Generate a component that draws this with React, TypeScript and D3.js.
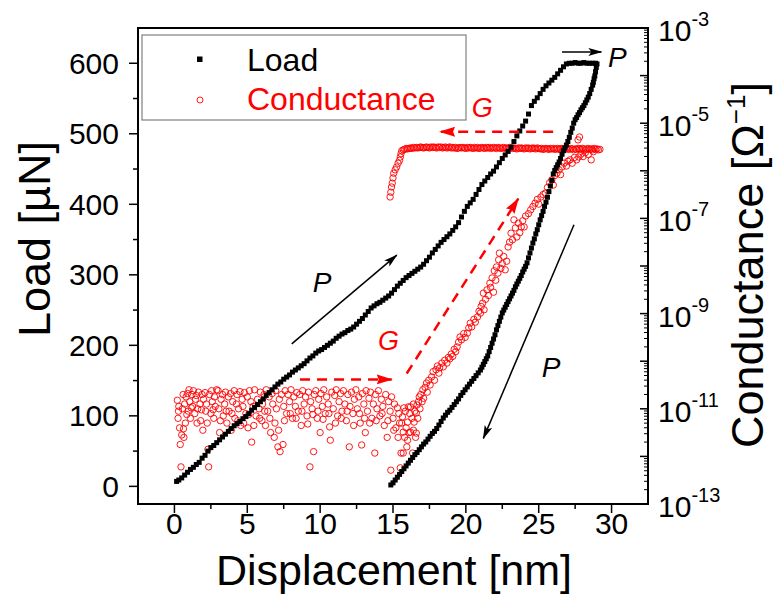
import React from 'react';
import * as d3 from 'd3';

// ---------------- data ----------------
// Load [µN] vs displacement [nm]: loading branch, hold, unloading branch
const loadLoading: [number, number][] = [
  [0.15,7],[0.3,9],[0.5,12],[0.7,16],[0.9,20],[1.1,24],[1.3,27],[1.5,31],[1.7,34],[1.9,40],
  [2.1,44],[2.3,50],[2.5,55],[2.7,58],[2.9,62],[3.1,66],[3.3,70],[3.5,74],[3.7,78],[3.9,82],
  [4.1,86],[4.3,89],[4.5,92],[4.7,96],[4.9,99],[5.1,103],[5.3,108],[5.5,112],[5.7,116],[5.9,120],
  [6.1,124],[6.3,129],[6.5,133],[6.7,137],[6.9,141],[7.1,145],[7.3,148],[7.5,152],[7.7,155],[7.9,158],
  [8.1,162],[8.3,165],[8.5,168],[8.7,171],[8.9,174],[9.1,178],[9.3,182],[9.5,185],[9.7,189],[9.9,192],
  [10.1,194],[10.3,197],[10.5,200],[10.7,203],[10.9,206],[11.1,210],[11.3,213],[11.5,216],[11.7,218],[11.9,221],
  [12.1,223],[12.3,226],[12.5,230],[12.7,234],[12.9,238],[13.1,243],[13.3,248],[13.5,253],[13.7,256],[13.9,259],
  [14.1,261],[14.3,264],[14.5,267],[14.7,270],[14.9,274],[15.1,279],[15.3,284],[15.5,288],[15.7,292],[15.9,296],
  [16.1,299],[16.3,302],[16.5,305],[16.7,308],[16.9,311],[17.1,315],[17.3,320],[17.5,325],[17.7,331],[17.9,336],
  [18.1,341],[18.3,346],[18.5,350],[18.7,354],[18.9,358],[19.1,363],[19.3,368],[19.5,374],[19.7,382],[19.9,390],
  [20.1,397],[20.3,402],[20.5,407],[20.7,414],[20.9,421],[21.1,428],[21.3,433],[21.5,438],[21.7,443],[21.9,447],
  [22.1,453],[22.3,459],[22.5,465],[22.7,470],[22.9,475],[23.1,481],[23.3,489],[23.5,497],[23.7,504],[23.9,511],
  [24.1,518],[24.3,528],[24.5,540],[24.7,546],[24.9,551],[25.1,557],[25.3,563],[25.5,568],[25.7,572],[25.9,576],
  [26.1,580],[26.3,585],[26.5,590],[26.7,595],[26.9,599],
];
const loadHold: [number, number][] = [
  [27.1,600],[27.3,600],[27.5,601],[27.7,600],[27.9,600],[28.1,601],[28.3,600],[28.5,600],[28.7,600],[28.9,600],[29.0,599],
];
const loadUnloading: [number, number][] = [
  [28.95,594],[28.9,588],[28.85,582],[28.8,578],[28.75,573],[28.7,569],[28.6,563],[28.5,557],[28.4,552],[28.3,548],
  [28.2,544],[28.1,540],[28.0,537],[27.9,534],[27.8,530],[27.7,527],[27.6,523],[27.5,520],[27.4,515],[27.3,508],
  [27.2,502],[27.1,495],[27.0,489],[26.9,484],[26.8,480],[26.7,476],[26.6,471],[26.5,465],[26.4,460],[26.3,456],
  [26.2,452],[26.1,448],[26.0,443],[25.9,434],[25.8,426],[25.7,418],[25.6,410],[25.5,403],[25.4,397],[25.3,390],
  [25.2,384],[25.1,378],[25.0,371],[24.9,364],[24.8,358],[24.7,351],[24.6,345],[24.5,338],[24.4,331],[24.3,324],
  [24.2,317],[24.1,312],[24.0,308],[23.9,304],[23.8,299],[23.7,295],[23.6,291],[23.5,287],[23.4,283],[23.3,278],
  [23.2,274],[23.1,270],[23.0,266],[22.9,262],[22.8,258],[22.7,254],[22.6,250],[22.5,246],[22.4,240],[22.3,234],
  [22.2,228],[22.1,222],[22.0,215],[21.9,209],[21.8,203],[21.7,197],[21.6,191],[21.5,185],[21.4,181],[21.3,177],
  [21.2,173],[21.1,169],[21.0,165],[20.85,161],[20.7,157],[20.55,153],[20.4,149],[20.25,145],[20.1,141],[19.95,137],
  [19.8,133],[19.65,129],[19.5,124],[19.35,120],[19.2,116],[19.05,112],[18.9,108],[18.75,105],[18.6,101],[18.45,97],
  [18.3,92],[18.15,87],[18.0,82],[17.85,78],[17.7,75],[17.55,71],[17.4,67],[17.25,63],[17.1,60],[16.95,56],
  [16.8,52],[16.65,48],[16.5,45],[16.35,41],[16.2,37],[16.05,33],[15.9,29],[15.75,25],[15.6,21],[15.45,17],
  [15.3,13],[15.15,9],[15.0,5],[14.85,2],
];

// Conductance: [displacement nm, log10(G / Ω⁻¹)]
const condNoise: [number, number][] = [
  [0.2,-10.82],[0.25,-11.2],[0.3,-10.95],[0.35,-11.4],[0.4,-11.75],[0.45,-12.22],[0.5,-11.55],[0.55,-11.0],[0.6,-10.7],[0.65,-11.6],
  [0.7,-10.9],[0.75,-11.3],[0.8,-10.75],[0.9,-10.68],[0.95,-11.05],[1.0,-10.6],[1.05,-10.85],[1.1,-11.2],[1.2,-10.7],[1.25,-10.95],
  [1.3,-10.62],[1.4,-11.1],[1.45,-10.8],[1.5,-10.72],[1.6,-11.0],[1.65,-10.65],[1.75,-10.9],[1.8,-11.25],[1.9,-10.7],[1.95,-11.45],
  [2.0,-10.8],[2.1,-10.66],[2.15,-11.05],[2.2,-10.9],[2.3,-11.85],[2.35,-12.22],[2.4,-10.7],[2.5,-11.1],[2.55,-10.62],[2.6,-10.85],
  [2.7,-11.2],[2.75,-10.75],[2.8,-10.95],[2.9,-10.6],[3.0,-10.62],[3.05,-11.0],[3.1,-11.5],[3.2,-10.8],[3.3,-10.7],[3.35,-11.15],
  [3.45,-10.9],[3.5,-10.65],[3.6,-11.3],[3.7,-10.75],[3.75,-11.05],[3.85,-10.68],[3.9,-11.45],[4.0,-10.85],[4.1,-10.62],[4.15,-11.2],
  [4.25,-10.9],[4.3,-10.7],[4.4,-11.0],[4.5,-10.64],[4.55,-11.35],[4.65,-10.8],[4.7,-10.95],[4.8,-10.66],[4.9,-11.1],[5.0,-10.75],
  [5.05,-11.4],[5.15,-10.62],[5.25,-10.85],[5.3,-11.7],[5.4,-10.95],[5.5,-10.6],[5.6,-11.15],[5.7,-10.8],[5.8,-11.0],[5.9,-10.65],
  [6.0,-11.25],[6.05,-10.9],[6.15,-10.7],[6.25,-11.35],[6.3,-10.6],[6.4,-11.05],[6.5,-10.75],[6.6,-11.5],[6.7,-10.68],[6.75,-10.9],
  [6.85,-11.6],[6.95,-10.62],[7.0,-11.0],[7.1,-11.8],[7.2,-10.8],[7.25,-11.9],[7.35,-10.7],[7.45,-11.75],[7.5,-10.95],[7.6,-10.62],
  [7.7,-11.1],[7.8,-10.7],[7.9,-10.85],[8.0,-10.6],[8.1,-11.2],[8.2,-10.75],[8.3,-10.95],[8.4,-10.66],[8.5,-11.05],[8.6,-10.7],
  [8.7,-11.35],[8.8,-10.62],[8.9,-10.9],[9.0,-10.75],[9.1,-11.15],[9.2,-10.65],[9.3,-12.22],[9.35,-10.85],[9.45,-11.0],[9.55,-11.9],
  [9.6,-10.7],[9.7,-10.62],[9.8,-11.2],[9.9,-10.8],[10.0,-11.5],[10.05,-10.68],[10.15,-10.95],[10.25,-10.6],[10.35,-11.1],[10.45,-10.75],
  [10.55,-10.9],[10.65,-11.38],[10.7,-11.66],[10.8,-10.65],[10.9,-11.0],[11.0,-10.72],[11.1,-10.6],[11.2,-11.15],[11.3,-10.85],[11.4,-10.68],
  [11.5,-11.05],[11.6,-10.62],[11.7,-10.9],[11.8,-11.25],[11.9,-10.7],[12.0,-11.8],[12.05,-10.95],[12.15,-10.65],[12.25,-11.1],[12.35,-10.8],
  [12.45,-10.6],[12.55,-11.0],[12.65,-10.75],[12.75,-11.3],[12.85,-11.76],[12.9,-10.68],[13.0,-10.9],[13.1,-11.5],[13.15,-10.62],[13.25,-11.05],
  [13.35,-10.78],[13.45,-10.65],[13.55,-11.2],[13.65,-10.9],[13.75,-11.93],[13.8,-10.7],[13.9,-11.0],[14.0,-10.62],[14.1,-11.15],[14.2,-10.8],
  [14.3,-10.95],[14.4,-11.35],[14.5,-10.7],[14.6,-11.6],[14.7,-10.85],[14.8,-11.05],[14.85,-12.29],[14.9,-10.75],[15.0,-11.2],[15.1,-10.9],
  [15.2,-11.4],[15.3,-10.98],[15.4,-11.1],[15.5,-12.24],
  // second, looser layer of the noise band
  [0.28,-11.05],[0.62,-11.42],[0.85,-11.12],[1.15,-10.98],[1.55,-11.3],[1.85,-11.02],[2.25,-11.3],[2.65,-11.02],[3.15,-11.25],[3.55,-11.05],
  [3.95,-11.1],[4.35,-11.25],[4.75,-11.3],[5.1,-11.12],[5.45,-11.35],[5.85,-11.2],[6.2,-11.05],[6.55,-11.2],[6.9,-11.3],[7.15,-11.45],
  [7.55,-11.25],[7.95,-11.1],[8.35,-11.2],[8.75,-11.05],[9.15,-11.32],[9.5,-11.12],[9.85,-11.05],[10.2,-11.22],[10.6,-11.1],[11.05,-11.3],
  [11.45,-11.2],[11.85,-11.05],[12.3,-11.35],[12.7,-11.1],[13.05,-11.2],[13.4,-11.3],[13.85,-11.25],[14.25,-11.1],[14.65,-11.25],[15.05,-11.45],
  [15.35,-11.6],[15.45,-11.3],
];
const condRising: [number, number][] = [
  [15.55,-11.93],[15.6,-11.3],[15.65,-11.17],[15.7,-11.93],[15.7,-11.49],[15.75,-10.98],[15.8,-11.6],[15.85,-11.05],[15.9,-11.4],[15.95,-11.8],
  [16.0,-11.66],[16.0,-11.28],[16.05,-10.96],[16.1,-11.5],[16.15,-11.1],[16.2,-11.49],[16.2,-10.96],[16.3,-11.2],[16.35,-11.93],[16.4,-11.45],
  [16.4,-10.9],[16.45,-11.28],[16.5,-11.05],[16.55,-11.6],[16.6,-11.51],[16.6,-11.09],[16.65,-10.92],[16.7,-11.2],[16.75,-10.85],[16.8,-10.75],
  [16.85,-11.0],[16.9,-10.7],[17.0,-10.85],[17.05,-10.6],[17.1,-10.78],[17.2,-10.55],[17.3,-10.46],[17.35,-10.65],[17.45,-10.4],[17.55,-10.5],
  [17.65,-10.33],[17.75,-10.22],[17.85,-10.4],[17.95,-10.18],[18.05,-10.1],[18.15,-10.25],[18.2,-10.14],[18.35,-10.04],[18.45,-10.12],[18.55,-9.98],
  [18.7,-10.04],[18.8,-9.92],[18.9,-9.95],[19.0,-9.85],[19.1,-9.9],[19.2,-9.75],[19.3,-9.8],[19.4,-9.7],[19.5,-9.6],[19.6,-9.49],
  [19.7,-9.55],[19.85,-9.42],[19.95,-9.5],[20.1,-9.41],[20.2,-9.3],[20.3,-9.2],[20.4,-9.28],[20.55,-9.12],[20.65,-9.18],[20.8,-9.07],
  [20.9,-8.95],[21.0,-8.99],[21.05,-8.85],[21.15,-8.78],[21.2,-8.57],[21.25,-8.92],[21.35,-8.7],[21.45,-8.5],[21.55,-8.62],[21.65,-8.36],
  [21.7,-8.45],[21.8,-8.25],[21.9,-8.55],[21.95,-8.1],[22.05,-8.3],[22.1,-8.02],[22.2,-8.15],[22.25,-7.87],[22.3,-7.73],[22.4,-8.05],
  [22.5,-7.95],[22.6,-7.8],[22.7,-8.08],[22.8,-7.9],[22.9,-7.6],[23.0,-7.5],[23.1,-7.31],[23.2,-7.45],[23.3,-7.03],[23.4,-7.2],
  [23.5,-7.39],[23.6,-7.1],[23.7,-7.3],[23.8,-7.18],[23.9,-7.05],[24.0,-7.18],[24.1,-6.95],[24.3,-6.9],[24.45,-6.82],[24.6,-6.75],
  [24.75,-6.68],[24.9,-6.6],[25.0,-6.7],[25.15,-6.55],[25.3,-6.5],[25.45,-6.47],[25.6,-6.35],[25.75,-6.25],[25.9,-6.19],[26.0,-6.3],
  [26.1,-6.1],[26.25,-6.05],[26.4,-5.98],[26.5,-6.08],[26.6,-5.92],[26.75,-5.84],[26.9,-5.9],[27.0,-5.8],[27.15,-5.77],[27.3,-5.84],
  [27.45,-5.72],[27.6,-5.77],[27.7,-5.35],[27.75,-5.71],[27.8,-5.29],[27.9,-5.65],[28.05,-5.7],[28.2,-5.62],[28.4,-5.66],[28.6,-5.77],
  [28.75,-5.6],
];
const condPlateau: [number, number][] = [
  [29.2,-5.55],[29.1,-5.56],[29.0,-5.54],[28.9,-5.55],[28.8,-5.53],[28.7,-5.56],[28.6,-5.54],[28.5,-5.55],[28.4,-5.53],[28.3,-5.54],
  [28.2,-5.56],[28.1,-5.54],[28.0,-5.53],[27.9,-5.55],[27.8,-5.54],[27.7,-5.53],[27.6,-5.55],[27.5,-5.54],[27.4,-5.56],[27.3,-5.54],
  [27.2,-5.53],[27.1,-5.55],[27.0,-5.54],[26.9,-5.53],[26.8,-5.55],[26.7,-5.54],[26.6,-5.53],[26.5,-5.54],[26.4,-5.55],[26.3,-5.53],
  [26.2,-5.54],[26.1,-5.55],[26.0,-5.53],[25.9,-5.54],[25.8,-5.53],[25.7,-5.55],[25.6,-5.54],[25.5,-5.53],[25.4,-5.54],[25.3,-5.55],
  [25.2,-5.53],[25.1,-5.54],[25.0,-5.53],[24.9,-5.52],[24.8,-5.54],[24.7,-5.53],[24.6,-5.52],[24.5,-5.53],[24.4,-5.54],[24.3,-5.52],
  [24.2,-5.53],[24.1,-5.52],[24.0,-5.54],[23.9,-5.53],[23.8,-5.52],[23.7,-5.53],[23.6,-5.52],[23.5,-5.54],[23.4,-5.53],[23.3,-5.52],
  [23.2,-5.53],[23.1,-5.52],[23.0,-5.51],[22.9,-5.53],[22.8,-5.52],[22.7,-5.53],[22.6,-5.51],[22.5,-5.52],[22.4,-5.53],[22.3,-5.52],
  [22.2,-5.51],[22.1,-5.53],[22.0,-5.52],[21.9,-5.51],[21.8,-5.52],[21.7,-5.53],[21.6,-5.51],[21.5,-5.52],[21.4,-5.51],[21.3,-5.53],
  [21.2,-5.52],[21.1,-5.51],[21.0,-5.52],[20.9,-5.53],[20.8,-5.51],[20.7,-5.52],[20.6,-5.51],[20.5,-5.53],[20.4,-5.52],[20.3,-5.51],
  [20.2,-5.52],[20.1,-5.51],[20.0,-5.53],[19.9,-5.52],[19.8,-5.51],[19.7,-5.52],[19.6,-5.51],[19.5,-5.52],[19.4,-5.53],[19.3,-5.51],
  [19.2,-5.52],[19.1,-5.51],[19.0,-5.52],[18.9,-5.5],[18.8,-5.51],[18.7,-5.52],[18.6,-5.5],[18.5,-5.51],[18.4,-5.52],[18.3,-5.5],
  [18.2,-5.51],[18.1,-5.5],[18.0,-5.52],[17.9,-5.51],[17.8,-5.5],[17.7,-5.51],[17.6,-5.5],[17.5,-5.52],[17.4,-5.51],[17.3,-5.5],
  [17.2,-5.51],[17.1,-5.52],[17.0,-5.51],[16.9,-5.5],[16.8,-5.51],[16.7,-5.52],[16.6,-5.51],[16.5,-5.52],[16.4,-5.51],[16.3,-5.53],
  [16.2,-5.52],[16.1,-5.53],[16.0,-5.54],[15.9,-5.53],[15.8,-5.55],[15.7,-5.56],[15.6,-5.58],
  [15.55,-5.64],[15.5,-5.71],[15.45,-5.78],[15.35,-5.84],[15.25,-5.92],[15.15,-5.98],[15.05,-6.05],[15.0,-6.15],[14.95,-6.26],[14.9,-6.34],
  [14.85,-6.45],[14.8,-6.55],
];

// axes
const xTicks = [0, 5, 10, 15, 20, 25, 30];
const xMinor = [2.5, 7.5, 12.5, 17.5, 22.5, 27.5];
const loadTicks = [0, 100, 200, 300, 400, 500, 600];
const loadMinor = [50, 150, 250, 350, 450, 550];
const condLabelExps = [-3, -5, -7, -9, -11, -13];
const condDecades = [-13, -12, -11, -10, -9, -8, -7, -6, -5, -4, -3];

// annotations in data coordinates [displacement, load]
const arrowLoadUp = [[8.05, 202], [15.26, 328]];
const labelLoadUp = [9.5, 276];
const arrowHold = [[26.6, 616], [29.3, 616]];
const labelHold = [29.76, 595];
const arrowUnload = [[27.42, 371], [21.2, 68]];
const labelUnload = [25.2, 155];
const arrowGFlat = [[8.62, 151.6], [14.91, 151.6]];
const arrowGRise = [[15.94, 160], [23.6, 408]];
const labelGLow = [13.97, 193];
const arrowGBack = [[25.99, 503], [18.23, 503]];
const labelGHigh = [20.4, 524];

const W = 775;
const H = 599;
const FONT = '"Liberation Sans", Arial, Helvetica, sans-serif';
const RED = '#ff0000';

export default function App() {
  const L = 138, R = 648, T = 28, B = 504;
  const x = d3.scaleLinear().domain([-2.5, 32.5]).range([L, R]);
  const yL = d3.scaleLinear().domain([-25, 650]).range([B, T]);
  const yG = d3.scaleLog().domain([1e-13, 1e-3]).range([B, T]);
  const gy = (e: number) => yG(Math.pow(10, e));

  const condMinor: number[] = [];
  for (let k = -13; k < -3; k++) for (let m = 2; m <= 9; m++) condMinor.push(m * Math.pow(10, k));

  const allLoad = [...loadLoading, ...loadHold, ...loadUnloading];
  const allCond = [...condNoise, ...condRising, ...condPlateau];

  const line = (pts: number[][]) => ({ x1: x(pts[0][0]), y1: yL(pts[0][1]), x2: x(pts[1][0]), y2: yL(pts[1][1]) });

  return (
    <svg width={W} height={H} style={{ position: 'absolute', left: 0, top: 0, background: '#fff' }} fontFamily={FONT}>
      <defs>
        <marker id="ab" markerUnits="userSpaceOnUse" markerWidth="14" markerHeight="10" refX="13" refY="4" orient="auto">
          <path d="M0,0 L14,4 L0,8 L3,4 z" fill="#000" />
        </marker>
        <marker id="ar" markerUnits="userSpaceOnUse" markerWidth="16" markerHeight="12" refX="15" refY="5" orient="auto">
          <path d="M0,0 L16,5 L0,10 L2,5 z" fill={RED} />
        </marker>
      </defs>
      <rect x={0} y={0} width={W} height={H} fill="#fff" />

      {/* conductance markers */}
      <g fill="none" stroke={RED} strokeWidth={0.9}>
        {allCond.map((d, i) => (
          <circle key={i} cx={x(d[0])} cy={gy(d[1])} r={3.2} />
        ))}
      </g>
      {/* load markers */}
      <g fill="#000">
        {allLoad.map((d, i) => (
          <rect key={i} x={x(d[0]) - 2.5} y={yL(d[1]) - 2.5} width={5} height={5} />
        ))}
      </g>

      {/* annotations */}
      <line {...line(arrowLoadUp)} stroke="#000" strokeWidth={1.5} markerEnd="url(#ab)" />
      <line {...line(arrowHold)} stroke="#000" strokeWidth={1.5} markerEnd="url(#ab)" />
      <line {...line(arrowUnload)} stroke="#000" strokeWidth={1.5} markerEnd="url(#ab)" />
      <line {...line(arrowGFlat)} stroke={RED} strokeWidth={2.5} strokeDasharray="10,7" markerEnd="url(#ar)" />
      <line {...line(arrowGRise)} stroke={RED} strokeWidth={2.5} strokeDasharray="10,7" markerEnd="url(#ar)" />
      <line {...line(arrowGBack)} stroke={RED} strokeWidth={2.5} strokeDasharray="10,7" markerEnd="url(#ar)" />
      <g fontStyle="italic" fontSize={28}>
        <text x={x(labelLoadUp[0])} y={yL(labelLoadUp[1])}>P</text>
        <text x={x(labelHold[0])} y={yL(labelHold[1])}>P</text>
        <text x={x(labelUnload[0])} y={yL(labelUnload[1])}>P</text>
        <text x={x(labelGLow[0])} y={yL(labelGLow[1])} fill={RED} fontSize={27}>G</text>
        <text x={x(labelGHigh[0])} y={yL(labelGHigh[1])} fill={RED} fontSize={27}>G</text>
      </g>

      {/* frame */}
      <line x1={L} y1={T} x2={R} y2={T} stroke="#000" strokeWidth={2} />
      <line x1={L} y1={T - 1} x2={L} y2={B + 1} stroke="#000" strokeWidth={2} />
      <line x1={L - 1} y1={B} x2={R + 1} y2={B} stroke="#000" strokeWidth={2} />
      <line x1={R} y1={T - 1} x2={R} y2={B + 1} stroke="#000" strokeWidth={2} />

      {/* ticks */}
      <g stroke="#000" strokeWidth={1.5}>
        {xTicks.map(t => <line key={'xt' + t} x1={x(t)} x2={x(t)} y1={B} y2={B + 9} />)}
        {xMinor.map(t => <line key={'xm' + t} x1={x(t)} x2={x(t)} y1={B} y2={B + 5} />)}
        {loadTicks.map(t => <line key={'yt' + t} x1={L - 9} x2={L} y1={yL(t)} y2={yL(t)} />)}
        {loadMinor.map(t => <line key={'ym' + t} x1={L - 5} x2={L} y1={yL(t)} y2={yL(t)} />)}
        {condDecades.map(e => <line key={'gt' + e} x1={R - 8} x2={R} y1={gy(e)} y2={gy(e)} />)}
      </g>
      <g stroke="#000" strokeWidth={1}>
        {condMinor.map((v, i) => <line key={'gm' + i} x1={R - 4} x2={R} y1={yG(v)} y2={yG(v)} />)}
      </g>
      <g fontSize={30} fill="#000">
        {xTicks.map(t => (
          <text key={'xl' + t} x={x(t)} y={534} textAnchor="middle">{t}</text>
        ))}
        {loadTicks.map(t => (
          <text key={'yl' + t} x={119} y={yL(t) + 10.5} textAnchor="end">{t}</text>
        ))}
        {condLabelExps.map(e => (
          <text key={'gl' + e} x={658} y={gy(e) + 13}>
            10<tspan fontSize={20} dy={-15}>{e}</tspan>
          </text>
        ))}
      </g>

      {/* axis titles */}
      <text x={394} y={585} textAnchor="middle" fontSize={43}>Displacement [nm]</text>
      <text transform="translate(50,239) rotate(-90)" textAnchor="middle" fontSize={45}>Load [µN]</text>
      <text transform="translate(763,265) rotate(-90)" textAnchor="middle" fontSize={45}>
        Conductance [Ω<tspan fontSize={26} dy={-18}>−1</tspan><tspan dy={18}>]</tspan>
      </text>

      {/* legend */}
      <rect x={142} y={35} width={324} height={85} fill="#fff" stroke="#808080" strokeWidth={1.2} />
      <rect x={197} y={56.5} width={5.5} height={5.5} fill="#000" />
      <circle cx={200} cy={100} r={3} fill="none" stroke={RED} strokeWidth={0.9} />
      <text x={247} y={71} fontSize={32}>Load</text>
      <text x={247} y={110} fontSize={32} fill={RED}>Conductance</text>
    </svg>
  );
}
